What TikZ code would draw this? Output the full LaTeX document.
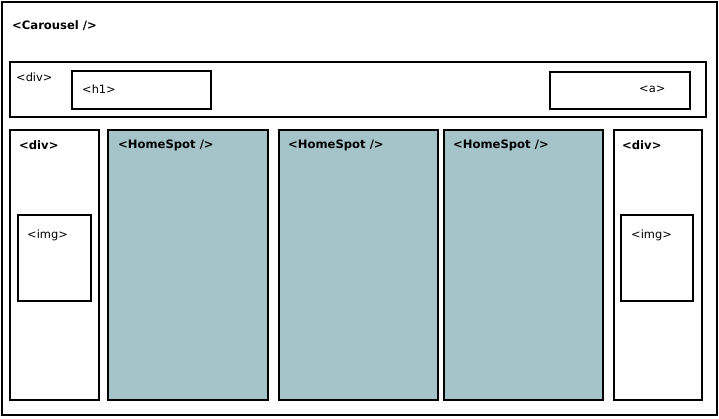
\documentclass[tikz,border=0pt]{standalone}
\usepackage{fontspec}
\setmainfont{DejaVu Sans}
\begin{document}
\begin{tikzpicture}[x=1pt,y=-1pt,
  frame/.style={draw=black, line width=1.4pt, fill=white, anchor=north west, inner sep=0pt, outer sep=0pt},
  spot/.style={frame, fill=spotfill},
  tagb/.style={anchor=west, inner sep=0pt, font=\fontsize{11.6}{13}\selectfont\bfseries},
  tagr/.style={anchor=west, inner sep=0pt, font=\fontsize{11.4}{13}\selectfont}]
\definecolor{spotfill}{HTML}{A5C4C9}
\useasboundingbox (0,0) rectangle (719,418);
% outer carousel frame
\node[frame, line width=1.8pt, minimum width=715pt, minimum height=413pt] (carousel) at (2,2) {};
\node[tagb] (carlbl) at (12,26) {<Carousel />};
% header row
\node[frame, minimum width=696pt, minimum height=55pt] (hdr) at (10,62) {};
\node[tagr] (hdrlbl) at (16,77) {<div>};
\node[frame, minimum width=139pt, minimum height=38pt] (h1) at (72,71) {};
\node[tagr] (h1lbl) at (82,89) {<h1>};
\node[frame, minimum width=140pt, minimum height=37pt] (abox) at (550,72) {};
\node[tagr] (albl) at (639,89) {<a>};
% left column
\node[frame, minimum width=89pt, minimum height=270pt] (ldiv) at (10,130) {};
\node[tagb] (ldivlbl) at (19,145) {<div>};
\node[frame, minimum width=73pt, minimum height=86pt] (limg) at (18,215) {};
\node[tagr] (limglbl) at (27,235) {<img>};
% home spots
\node[spot, minimum width=160pt, minimum height=270pt] (hs1) at (108,130) {};
\node[tagb] (hs1lbl) at (118,145) {<HomeSpot />};
\node[spot, minimum width=159pt, minimum height=270pt] (hs2) at (279,130) {};
\node[tagb] (hs2lbl) at (288,145) {<HomeSpot />};
\node[spot, minimum width=159pt, minimum height=270pt] (hs3) at (444,130) {};
\node[tagb] (hs3lbl) at (453,145) {<HomeSpot />};
% right column
\node[frame, minimum width=88pt, minimum height=270pt] (rdiv) at (614,130) {};
\node[tagb] (rdivlbl) at (622,145) {<div>};
\node[frame, minimum width=72pt, minimum height=86pt] (rimg) at (621,215) {};
\node[tagr] (rimglbl) at (631,235) {<img>};
\end{tikzpicture}
\end{document}
